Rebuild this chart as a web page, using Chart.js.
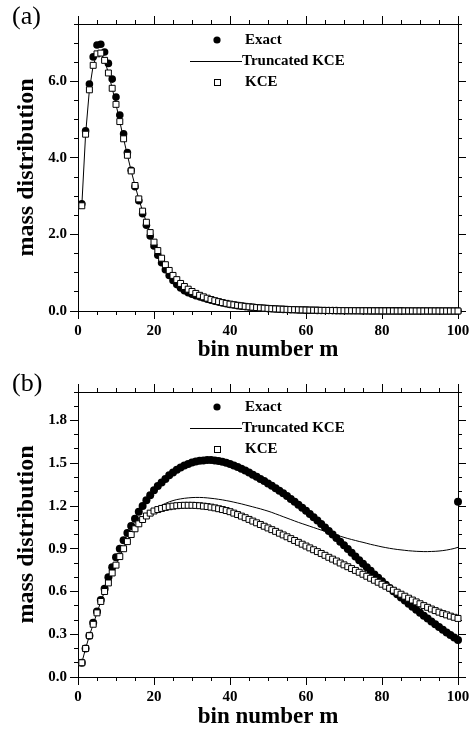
<!DOCTYPE html>
<html>
<head>
<meta charset="utf-8">
<script src="https://cdn.jsdelivr.net/npm/chart.js@4.4.1/dist/chart.umd.min.js"></script>
<style>
  html, body { margin: 0; padding: 0; background: #fff; }
  #page { position: relative; width: 471px; height: 734px; overflow: hidden; }
  canvas { position: absolute; left: 0; }
  .panel { position: absolute; left: 12px; font: 26px "Liberation Serif", "Times New Roman", serif; line-height: 26px; color: #000; }
</style>
</head>
<body>
<div id="page">
  <canvas id="chartA" width="471" height="367" style="top:0"></canvas>
  <canvas id="chartB" width="471" height="367" style="top:367px"></canvas>
  <div class="panel" style="top:3px">(a)</div>
  <div class="panel" style="top:370px">(b)</div>
</div>
<script>
const SERIF = '"Liberation Serif", "Times New Roman", serif';

const bins = [1, 2, 3, 4, 5, 6, 7, 8, 9, 10, 11, 12, 13, 14, 15, 16, 17, 18, 19, 20,
  21, 22, 23, 24, 25, 26, 27, 28, 29, 30, 31, 32, 33, 34, 35, 36, 37, 38, 39, 40,
  41, 42, 43, 44, 45, 46, 47, 48, 49, 50, 51, 52, 53, 54, 55, 56, 57, 58, 59, 60,
  61, 62, 63, 64, 65, 66, 67, 68, 69, 70, 71, 72, 73, 74, 75, 76, 77, 78, 79, 80,
  81, 82, 83, 84, 85, 86, 87, 88, 89, 90, 91, 92, 93, 94, 95, 96, 97, 98, 99, 100];

// panel (a)
const exactA = [2.80, 4.71, 5.93, 6.64, 6.95, 6.97, 6.77, 6.47, 6.06, 5.59,
  5.12, 4.63, 4.14, 3.68, 3.25, 2.88, 2.54, 2.24, 1.96, 1.70,
  1.46, 1.26, 1.08, 0.93, 0.80, 0.69, 0.60, 0.53, 0.48, 0.44,
  0.40, 0.37, 0.34, 0.31, 0.28, 0.255, 0.232, 0.21, 0.19, 0.17,
  0.155, 0.14, 0.127, 0.115, 0.104, 0.094, 0.085, 0.077, 0.070, 0.063,
  0.057, 0.051, 0.046, 0.042, 0.038, 0.034, 0.031, 0.028, 0.025, 0.022,
  0.020, 0.018, 0.016, 0.014, 0.013, 0.012, 0.010, 0.009, 0.008, 0.007,
  0.006, 0.006, 0.005, 0.005, 0.004, 0.004, 0.003, 0.003, 0.003, 0.002,
  0.002, 0.002, 0.002, 0.002, 0.002, 0.001, 0.001, 0.001, 0.001, 0.001,
  0.001, 0.001, 0.001, 0.001, 0.001, 0, 0, 0, 0, 0];
const kceA = [2.75, 4.62, 5.78, 6.42, 6.72, 6.74, 6.55, 6.22, 5.82, 5.40,
  4.95, 4.50, 4.07, 3.66, 3.28, 2.93, 2.61, 2.32, 2.05, 1.80,
  1.58, 1.38, 1.21, 1.06, 0.93, 0.82, 0.72, 0.64, 0.57, 0.51,
  0.46, 0.41, 0.37, 0.335, 0.30, 0.27, 0.245, 0.22, 0.20, 0.18,
  0.163, 0.148, 0.134, 0.121, 0.110, 0.100, 0.090, 0.082, 0.074, 0.067,
  0.061, 0.055, 0.050, 0.045, 0.041, 0.037, 0.034, 0.031, 0.028, 0.025,
  0.023, 0.021, 0.019, 0.017, 0.015, 0.014, 0.012, 0.011, 0.010, 0.009,
  0.008, 0.007, 0.007, 0.006, 0.005, 0.005, 0.004, 0.004, 0.004, 0.003,
  0.003, 0.003, 0.002, 0.002, 0.002, 0.002, 0.002, 0.001, 0.001, 0.001,
  0.001, 0.001, 0.001, 0.001, 0.001, 0, 0, 0, 0, 0];
// truncated curve sits on the KCE squares at this scale
const truncA = kceA;

// panel (b)
const exactB = [0.10, 0.20, 0.29, 0.38, 0.46, 0.54, 0.62, 0.70, 0.77, 0.84,
  0.90, 0.96, 1.01, 1.06, 1.11, 1.16, 1.20, 1.24, 1.275, 1.31,
  1.34, 1.365, 1.39, 1.415, 1.435, 1.455, 1.47, 1.485, 1.495, 1.505,
  1.512, 1.517, 1.52, 1.522, 1.522, 1.52, 1.516, 1.51, 1.503, 1.495,
  1.485, 1.474, 1.462, 1.449, 1.435, 1.42, 1.405, 1.39, 1.375, 1.358,
  1.342, 1.325, 1.307, 1.289, 1.27, 1.25, 1.23, 1.209, 1.188, 1.166,
  1.144, 1.121, 1.098, 1.074, 1.05, 1.025, 1.0, 0.975, 0.95, 0.924,
  0.898, 0.872, 0.846, 0.82, 0.795, 0.77, 0.745, 0.72, 0.696, 0.672,
  0.648, 0.625, 0.602, 0.58, 0.558, 0.536, 0.514, 0.493, 0.472, 0.451,
  0.43, 0.41, 0.39, 0.37, 0.351, 0.332, 0.313, 0.295, 0.277, 0.26];
const kceB = [0.10, 0.20, 0.29, 0.37, 0.45, 0.53, 0.60, 0.66, 0.73, 0.785,
  0.845, 0.90, 0.95, 1.00, 1.04, 1.075, 1.105, 1.13, 1.15, 1.165,
  1.175, 1.183, 1.19, 1.195, 1.199, 1.202, 1.204, 1.205, 1.205, 1.205,
  1.204, 1.202, 1.199, 1.196, 1.192, 1.187, 1.181, 1.175, 1.168, 1.16,
  1.15, 1.14, 1.129, 1.118, 1.106, 1.094, 1.082, 1.07, 1.058, 1.046,
  1.034, 1.022, 1.009, 0.997, 0.984, 0.971, 0.958, 0.945, 0.932, 0.919,
  0.906, 0.893, 0.88, 0.867, 0.854, 0.84, 0.827, 0.814, 0.80, 0.787,
  0.774, 0.761, 0.748, 0.735, 0.721, 0.707, 0.693, 0.679, 0.665, 0.651,
  0.637, 0.623, 0.609, 0.595, 0.581, 0.567, 0.553, 0.54, 0.527, 0.514,
  0.501, 0.489, 0.477, 0.466, 0.455, 0.445, 0.436, 0.427, 0.419, 0.411];
const truncB = [0.10, 0.20, 0.29, 0.37, 0.45, 0.53, 0.60, 0.665, 0.73, 0.79,
  0.85, 0.905, 0.955, 1.00, 1.04, 1.075, 1.105, 1.13, 1.152, 1.172,
  1.19, 1.205, 1.218, 1.229, 1.238, 1.245, 1.25, 1.254, 1.257, 1.259,
  1.26, 1.26, 1.259, 1.257, 1.254, 1.251, 1.247, 1.243, 1.238, 1.233,
  1.227, 1.221, 1.215, 1.208, 1.201, 1.194, 1.187, 1.18, 1.172, 1.164,
  1.155, 1.145, 1.135, 1.125, 1.115, 1.105, 1.095, 1.085, 1.076, 1.067,
  1.058, 1.049, 1.04, 1.031, 1.022, 1.013, 1.004, 0.996, 0.988, 0.98,
  0.972, 0.965, 0.958, 0.951, 0.945, 0.938, 0.931, 0.925, 0.919, 0.913,
  0.908, 0.903, 0.899, 0.895, 0.892, 0.889, 0.886, 0.884, 0.882, 0.881,
  0.88, 0.88, 0.881, 0.882, 0.884, 0.887, 0.891, 0.896, 0.902, 0.91];
// lone filled dot at the right edge of panel (b)
const strayB = [[100, 1.23]];

const xTickVals = [0, 20, 40, 60, 80, 100];
const yTicksA = [0, 2, 4, 6];
const yTicksB = [0, 0.3, 0.6, 0.9, 1.2, 1.5, 1.8];
const seriesNames = ['Exact', 'Truncated KCE', 'KCE'];

const pts = (xs, ys) => ys.map((v, i) => ({ x: xs[i], y: v }));

// minor tick positions
function steps(max, step) {
  const out = [];
  const n = Math.round(max / step);
  for (let i = 0; i <= n; i++) out.push(+(i * step).toFixed(3));
  return out;
}

// zero-size axis that only draws outward tick marks (and maybe the frame line)
function tickAxis(position, weight, min, max, len, values, border) {
  return {
    type: 'linear', position, weight, min, max,
    grid: { display: true, drawOnChartArea: false, drawTicks: true, tickLength: len, color: '#000', lineWidth: 1 },
    border: { display: border, color: '#000', width: 1 },
    ticks: { display: false },
    afterBuildTicks: s => { s.ticks = values.map(v => ({ value: v })); },
    afterFit: s => {
      if (s.isHorizontal()) s.height = 0; else s.width = 0;
      s.paddingLeft = s.paddingRight = s.paddingTop = s.paddingBottom = 0;
    }
  };
}

const boxLegend = {
  id: 'boxLegend',
  afterDraw(chart, args, o) {
    const ctx = chart.ctx;
    const [r1, r2, r3] = o.rows;
    ctx.save();
    ctx.fillStyle = '#000';
    ctx.strokeStyle = '#000';
    ctx.lineWidth = 1;
    ctx.beginPath();
    ctx.arc(o.markX, r1, 3.6, 0, Math.PI * 2);
    ctx.fill();
    ctx.beginPath();
    ctx.moveTo(o.lineFrom, r2 + 0.5);
    ctx.lineTo(o.lineTo, r2 + 0.5);
    ctx.stroke();
    ctx.fillStyle = '#fff';
    ctx.fillRect(o.markX - 3, r3 - 3, 6, 6);
    ctx.strokeRect(o.markX - 2.5, r3 - 2.5, 6, 6);
    ctx.fillStyle = '#000';
    ctx.font = 'bold 15px ' + SERIF;
    ctx.textBaseline = 'middle';
    ctx.fillText(seriesNames[0], o.textX, r1);
    ctx.fillText(seriesNames[1], o.textX - 3, r2);
    ctx.fillText(seriesNames[2], o.textX, r3);
    ctx.restore();
  }
};

function makeChart(id, p) {
  const datasets = [
    {
      label: seriesNames[0], data: pts(bins, p.exact), showLine: false,
      pointStyle: 'circle', pointRadius: p.dot, pointBackgroundColor: '#000',
      pointBorderColor: '#000', pointBorderWidth: 0, clip: false, order: 3
    },
    {
      label: seriesNames[1], data: pts(bins, p.trunc), showLine: true,
      borderColor: '#000', borderWidth: 1, pointRadius: 0, tension: 0, order: 2
    },
    {
      label: seriesNames[2], data: pts(bins, p.kce), showLine: false,
      pointStyle: 'rect', pointRadius: p.sq, pointBackgroundColor: '#fff',
      pointBorderColor: '#000', pointBorderWidth: 1, clip: false, order: 1
    }
  ];
  if (p.stray) {
    datasets.push({
      label: 'stray', data: p.stray.map(d => ({ x: d[0], y: d[1] })), showLine: false,
      pointStyle: 'circle', pointRadius: p.dot, pointBackgroundColor: '#000',
      pointBorderWidth: 0, clip: false, order: 3
    });
  }
  const tickFont = { family: SERIF, size: 15, weight: 'bold' };
  const xMinorVals = steps(100, 5);
  const yMinorVals = steps(p.yMax, p.yMinor);
  return new Chart(document.getElementById(id), {
    type: 'scatter',
    data: { datasets },
    options: {
      responsive: false,
      animation: false,
      events: [],
      layout: { padding: { top: p.padTop, right: 13, left: 0, bottom: 0 } },
      plugins: {
        legend: { display: false },
        tooltip: { enabled: false },
        boxLegend: { rows: [40, 61, 82], markX: 217, lineFrom: 190, lineTo: 242, textX: 245 }
      },
      scales: {
        x: {
          type: 'linear', position: 'bottom', weight: 1, min: 0, max: 100,
          grid: { display: true, drawOnChartArea: false, drawTicks: true, tickLength: 8, color: '#000', lineWidth: 1 },
          border: { display: true, color: '#000', width: 1 },
          afterBuildTicks: s => { s.ticks = xTickVals.map(v => ({ value: v })); },
          ticks: { font: tickFont, color: '#000', padding: 3, maxRotation: 0, callback: v => String(v) },
          title: { display: true, text: 'bin number m', font: { family: SERIF, size: 23, weight: 'bold' }, color: '#000', padding: { top: 0, bottom: 3 } },
          afterFit: s => { s.height = p.xAxisH; s.paddingLeft = 0; s.paddingRight = 0; }
        },
        xMinor: tickAxis('bottom', 0, 0, 100, 4, xMinorVals, false),
        xTop: tickAxis('top', 1, 0, 100, 8, xTickVals, true),
        xTopMinor: tickAxis('top', 0, 0, 100, 4, xMinorVals, false),
        y: {
          type: 'linear', position: 'left', weight: 1, min: 0, max: p.yMax,
          grid: { display: true, drawOnChartArea: false, drawTicks: true, tickLength: 8, color: '#000', lineWidth: 1 },
          border: { display: true, color: '#000', width: 1 },
          afterBuildTicks: s => { s.ticks = p.yTicks.map(v => ({ value: v })); },
          ticks: { font: tickFont, color: '#000', padding: 3, callback: v => v.toFixed(1) },
          title: { display: true, text: 'mass distribution', font: { family: SERIF, size: 24, weight: 'bold' }, color: '#000', padding: { top: 12, bottom: 0 } },
          afterFit: s => { s.width = 78; s.paddingTop = 0; s.paddingBottom = 0; }
        },
        yMinor: tickAxis('left', 0, 0, p.yMax, 4, yMinorVals, false),
        yRight: tickAxis('right', 1, 0, p.yMax, 8, p.yTicks, true),
        yRightMinor: tickAxis('right', 0, 0, p.yMax, 4, yMinorVals, false)
      }
    },
    plugins: [boxLegend]
  });
}

makeChart('chartA', {
  exact: exactA, kce: kceA, trunc: truncA, dot: 3.8, sq: 4.2,
  yMax: 7.5, yMinor: 0.5, yTicks: yTicksA, padTop: 24, xAxisH: 56
});
makeChart('chartB', {
  exact: exactB, kce: kceB, trunc: truncB, stray: strayB, dot: 4.0, sq: 4.2,
  yMax: 2.0, yMinor: 0.1, yTicks: yTicksB, padTop: 25, xAxisH: 57
});
</script>
</body>
</html>
